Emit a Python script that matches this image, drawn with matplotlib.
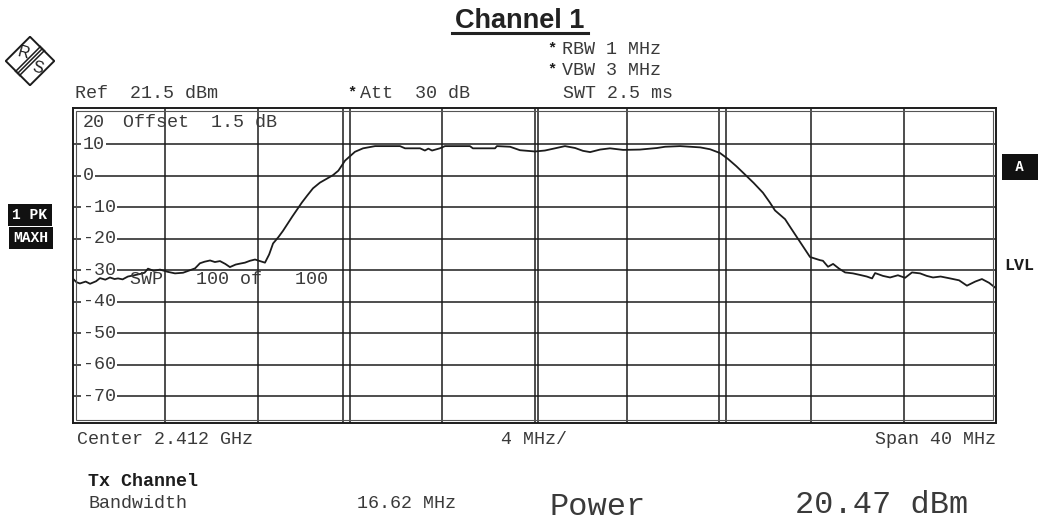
import numpy as np
import matplotlib.pyplot as plt
from matplotlib.patches import Polygon, Rectangle

# trace: offset from center [MHz], level [dBm]
freq = [-20.0, -19.85, -19.70, -19.45, -19.26, -19.0, -18.83, -18.6, -18.40, -18.2,
        -18.05, -17.85, -17.62, -17.35, -17.10, -16.9, -16.75, -16.5, -16.23, -15.9,
        -15.58, -15.23, -14.93, -14.71, -14.50, -14.3, -14.06, -13.85, -13.63, -13.4,
        -13.20, -12.95, -12.76, -12.55, -12.33, -12.11, -11.81, -11.68, -11.5, -11.33,
        -11.1, -10.90, -10.5, -10.08, -9.85, -9.60, -9.3, -8.99, -8.73, -8.5,
        -8.21, -7.78, -7.43, -6.91, -5.83, -5.61, -4.96, -4.75, -4.6, -4.44,
        -4.10, -3.88, -2.80, -2.67, -1.71, -1.63, -1.06, -0.63, 0.02, 0.45,
        0.89, 1.32, 1.76, 2.1, 2.41, 2.84, 3.27, 3.84, 4.57, 5.31,
        5.66, 6.31, 7.18, 7.61, 8.04, 8.39, 8.75, 9.12, 9.5, 9.90,
        10.2, 10.42, 10.86, 11.1, 11.38, 11.94, 12.37, 12.5, 12.72, 12.94,
        13.2, 13.46, 13.8, 14.11, 14.4, 14.63, 14.76, 15.1, 15.41, 15.75,
        16.06, 16.36, 16.71, 17.0, 17.27, 17.6, 18.01, 18.4, 18.74, 19.1,
        19.39, 19.7, 19.96]
level = [-32.7, -33.8, -34.2, -33.6, -34.3, -33.5, -32.5, -33.0, -32.3, -32.8,
         -32.6, -32.9, -32.0, -31.6, -31.2, -30.8, -29.5, -30.2, -29.8, -30.5,
         -31.0, -30.8, -30.0, -29.4, -27.8, -27.3, -26.9, -27.4, -27.1, -28.0,
         -29.0, -28.2, -27.9, -27.6, -27.0, -26.6, -27.3, -27.6, -25.0, -21.5,
         -19.5, -17.5, -13.0, -8.5, -6.3, -4.0, -2.2, -0.9, 0.2, 1.6,
         4.8, 7.6, 8.7, 9.4, 9.4, 8.7, 8.7, 8.0, 8.6, 8.0,
         8.7, 9.4, 9.4, 8.7, 8.7, 9.4, 9.2, 8.1, 7.7, 8.0,
         8.7, 9.4, 8.8, 7.9, 7.5, 8.3, 8.7, 8.2, 8.3, 8.8,
         9.2, 9.4, 9.0, 8.4, 7.2, 5.3, 3.0, 0.4, -2.3, -5.4,
         -8.5, -11.0, -13.8, -16.5, -19.6, -25.8, -26.8, -27.0, -28.9, -28.0,
         -29.5, -30.7, -31.0, -31.5, -32.0, -32.6, -30.9, -31.8, -32.3, -31.6,
         -32.4, -30.7, -31.0, -31.8, -32.3, -32.0, -32.6, -33.2, -34.9, -33.6,
         -32.8, -34.0, -35.5]

ref_level = 21.5
bottom_level = -78.5
span = 40
grid_levels = [10, 0, -10, -20, -30, -40, -50, -60, -70]
level_labels = ['20', '10', '0', '-10', '-20', '-30', '-40', '-50', '-60', '-70']
label_levels = [20, 10, 0, -10, -20, -30, -40, -50, -60, -70]
grid_freqs = np.arange(-16, 17, 4)
chan_bw = 16.62
lvl_line = -30

W, H = 1040, 524
mono = 'Liberation Mono'
fs = 13.2
txt = '#3a3a3a'
ink = '#1c1c1c'

fig = plt.figure(figsize=(W / 100, H / 100), dpi=100)
fig.patch.set_facecolor('white')


def px(x, y):
    return x / W, 1 - y / H


ax = fig.add_axes([73 / W, 1 - 423 / H, 923 / W, 315 / H])
ax.set_xlim(-span / 2, span / 2)
ax.set_ylim(bottom_level, ref_level)
ax.set_xticks([])
ax.set_yticks([])
for s in ax.spines.values():
    s.set_linewidth(1.4)
    s.set_color(ink)
# inner frame line
ax.add_patch(Rectangle((3 / 923, 3 / 315), 1 - 6 / 923, 1 - 6 / 315, transform=ax.transAxes,
                       fill=False, lw=0.8, ec='#555555', zorder=5))

for g in grid_levels:
    ax.axhline(g, color=ink, lw=1.1, zorder=1)
for g in grid_freqs:
    ax.axvline(g, color=ink, lw=1.1, zorder=1)
# channel limits and center marker
ax.axvline(-chan_bw / 2, color=ink, lw=1.1, zorder=1)
ax.axvline(chan_bw / 2, color=ink, lw=1.1, zorder=1)
ax.axvline(0.15, color=ink, lw=1.1, zorder=1)

ax.plot(freq, level, color=ink, lw=1.3, zorder=3)

for lab, v in zip(level_labels, label_levels):
    yy = min(v, 16.8)
    ax.text(-19.57, yy, lab, family=mono, fontsize=fs, color=txt, va='center', ha='left',
            zorder=2, bbox=dict(facecolor='white', edgecolor='none', pad=1.0))

ax.text(-17.83, 16.8, 'Offset  1.5 dB', family=mono, fontsize=fs, color=txt, va='center', zorder=4)
ax.text(-17.53, lvl_line - 3, 'SWP   100 of   100', family=mono, fontsize=fs, color=txt,
        va='center', zorder=4)

# header
fig.text(*px(520, 28), 'Channel 1', family='Liberation Sans', weight='bold', fontsize=19.5,
         ha='center', va='baseline', color='#222222')
fig.add_artist(plt.Line2D([452 / W, 588 / W], [1 - 33 / H, 1 - 33 / H], color='#222222', lw=2.2))
fig.text(*px(75, 93), 'Ref  21.5 dBm', family=mono, fontsize=fs, color=txt, va='center')
fig.text(*px(352, 92), '*', family=mono, weight='bold', fontsize=11, color=ink, va='center', ha='center')
fig.text(*px(360, 93), 'Att  30 dB', family=mono, fontsize=fs, color=txt, va='center')
fig.text(*px(552, 48), '*', family=mono, weight='bold', fontsize=11, color=ink, va='center', ha='center')
fig.text(*px(562, 49), 'RBW 1 MHz', family=mono, fontsize=fs, color=txt, va='center')
fig.text(*px(552, 69), '*', family=mono, weight='bold', fontsize=11, color=ink, va='center', ha='center')
fig.text(*px(562, 70), 'VBW 3 MHz', family=mono, fontsize=fs, color=txt, va='center')
fig.text(*px(563, 93), 'SWT 2.5 ms', family=mono, fontsize=fs, color=txt, va='center')

# side labels
box = dict(facecolor='#111111', edgecolor='none', pad=3.2)
fig.text(*px(30, 215), '1 PK', family=mono, weight='bold', fontsize=10.5, color='white',
         ha='center', va='center', bbox=box)
fig.text(*px(31, 238), 'MAXH', family=mono, weight='bold', fontsize=10.5, color='white',
         ha='center', va='center', bbox=box)
fig.text(*px(1020, 167), ' A ', family=mono, weight='bold', fontsize=10, color='white',
         ha='center', va='center', bbox=dict(facecolor='#111111', edgecolor='none', pad=4))
fig.text(*px(1019, 265), 'LVL', family=mono, weight='bold', fontsize=12, color=ink,
         ha='center', va='center')

# logo
cx, cy, r = 30, 61, 25
logo = fig.add_axes([(cx - r) / W, 1 - (cy + r) / H, 2 * r / W, 2 * r / H])
logo.set_xlim(-1, 1)
logo.set_ylim(-1, 1)
logo.axis('off')
logo.add_patch(Polygon([[0, 0.97], [0.97, 0], [0, -0.97], [-0.97, 0]], closed=True,
                       fill=False, ec=ink, lw=1.4))
for d in [-0.08, 0, 0.08]:
    logo.plot([0.5 + d, -0.5 + d], [0.5 - d, -0.5 - d], color=ink, lw=1.1)
logo.text(-0.27, 0.3, 'R', family='Liberation Sans', fontsize=11.5, ha='center', va='center',
          color=ink, rotation=-15)
logo.text(0.3, -0.3, 'S', family='Liberation Sans', fontsize=11.5, ha='center', va='center',
          color=ink, rotation=-15)

# footer
fig.text(*px(77, 440), 'Center 2.412 GHz', family=mono, fontsize=fs, color=txt, va='center')
fig.text(*px(534, 440), '4 MHz/', family=mono, fontsize=fs, color=txt, va='center', ha='center')
fig.text(*px(996, 440), 'Span 40 MHz', family=mono, fontsize=fs, color=txt, va='center', ha='right')
fig.text(*px(88, 481), 'Tx Channel', family=mono, weight='bold', fontsize=fs, color=ink, va='center')
fig.text(*px(88, 503), 'Bandwidth', family=mono, fontsize=fs, color=txt, va='center')
fig.text(*px(357, 503), '16.62 MHz', family=mono, fontsize=fs, color=txt, va='center')
fig.text(*px(550, 507), 'Power', family=mono, fontsize=23, color=txt, va='center')
fig.text(*px(795, 505), '20.47 dBm', family=mono, fontsize=23, color=txt, va='center')

plt.savefig('out.png', dpi=100, facecolor='white')
